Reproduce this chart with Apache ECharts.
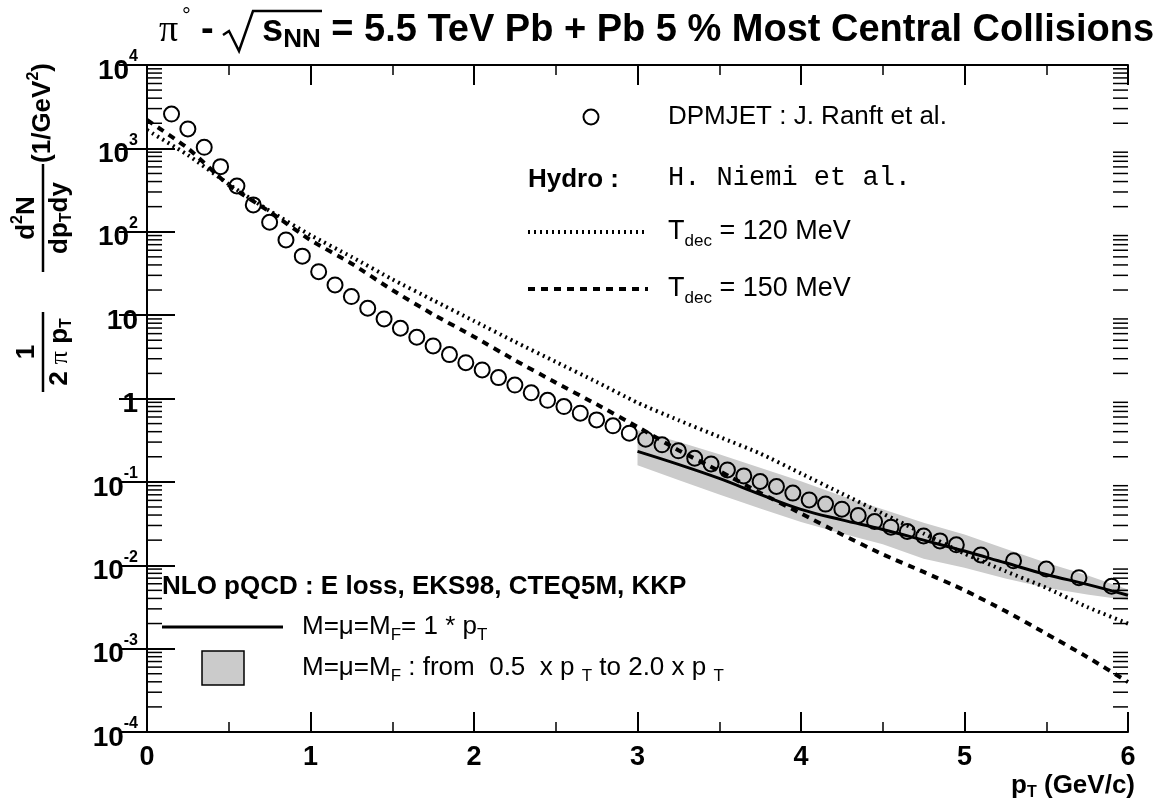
<!DOCTYPE html>
<html><head><meta charset="utf-8">
<script src="https://cdn.jsdelivr.net/npm/echarts@6/dist/echarts.min.js"></script>
<style>html,body{margin:0;padding:0;background:#fff}#c{width:1169px;height:807px}</style>
</head><body><div id="c"></div>
<script>
// ---- data ----
const dpmjetX = [0.15,0.25,0.35,0.45,0.55,0.65,0.75,0.85,0.95,1.05,1.15,1.25,1.35,1.45,1.55,1.65,1.75,1.85,1.95,2.05,
  2.15,2.25,2.35,2.45,2.55,2.65,2.75,2.85,2.95,3.05,3.15,3.25,3.35,3.45,3.55,3.65,3.75,3.85,3.95,4.05,
  4.15,4.25,4.35,4.45,4.55,4.65,4.75,4.85,4.95,5.1,5.3,5.5,5.7,5.9];
const dpmjetY = [2580,1710,1030,604,354,210,130,79.7,51,33.2,23.0,16.7,12.1,9.0,6.96,5.43,4.27,3.36,2.69,2.20,
  1.78,1.45,1.17,0.95,0.80,0.667,0.554,0.47,0.384,0.325,0.278,0.236,0.192,0.164,0.139,0.118,0.101,0.088,0.0733,0.0608,
  0.0541,0.0471,0.0395,0.0334,0.0286,0.0254,0.0225,0.0196,0.0176,0.0133,0.0113,0.0090,0.0071,0.0056];
const hydroX = [0,0.25,0.5,0.75,1,1.25,1.5,1.75,2,2.25,2.5,2.75,3,3.25,3.5,3.75,4,4.25,4.5,4.75,5,5.25,5.5,5.75,6];
const hydroT120 = [1660,832,372,178,91.2,50.1,26.9,15.1,8.51,4.79,2.75,1.58,0.891,0.550,0.347,0.219,0.126,0.0724,0.0417,0.0240,0.0138,0.00851,0.00537,0.00316,0.00200];
const hydroT150 = [2190,1000,363,174,79.4,41.7,20.0,10.2,5.50,2.88,1.55,0.851,0.457,0.240,0.135,0.0741,0.0417,0.0234,0.0135,0.00832,0.00501,0.00282,0.00151,0.000794,0.000398];
const nloX = [3,3.25,3.5,3.75,4,4.25,4.5,4.75,5,5.25,5.5,5.75,6];
const nloCentral = [0.232,0.162,0.110,0.0708,0.0468,0.0350,0.0269,0.0200,0.0148,0.0107,0.00776,0.00589,0.00437];
const nloBandHigh = [0.417,0.302,0.214,0.148,0.102,0.0676,0.0468,0.0324,0.0234,0.0158,0.0107,0.00759,0.00513];
const nloBandLow = [0.158,0.105,0.0708,0.0479,0.0331,0.0240,0.0178,0.0120,0.00933,0.00692,0.00537,0.00447,0.00380];
const xTickLabels = ['0','1','2','3','4','5','6'];
const yDecadeExponents = [-4,-3,-2,-1,0,1,2,3,4];
const yMinorMultipliers = [2,3,4,5,6,7,8,9];

// ---- helpers ----
const F = 'Liberation Sans, Arial, Helvetica, sans-serif';
const yMinorTicks = [];
yDecadeExponents.slice(0, -1).forEach(e => yMinorMultipliers.forEach(m => yMinorTicks.push([0, m * Math.pow(10, e)])));

function yLabel(v) {
  const e = Math.round(Math.log10(v));
  if (e === 0) return '{b|1}';
  if (e === 1) return '{b|10}';
  return '{b|10}{s|' + e + '}';
}

const chart = echarts.init(document.getElementById('c'), null, {renderer: 'canvas'});
const axisLine = {show: true, lineStyle: {color: '#000', width: 2}};
const option = {
  backgroundColor: '#fff',
  animation: false,
  grid: {left: 147, right: 41, top: 65, bottom: 75, containLabel: false},
  xAxis: [
    {type: 'value', min: 0, max: 6, interval: 1, position: 'bottom',
      axisLine: axisLine,
      axisTick: {show: true, inside: true, length: 20, lineStyle: {color: '#000', width: 2}},
      minorTick: {show: true, splitNumber: 2, length: 10, lineStyle: {color: '#000', width: 1.5}},
      splitLine: {show: false},
      axisLabel: {show: true, margin: 12, color: '#000', fontFamily: F, fontWeight: 'bold', fontSize: 27,
        formatter: v => xTickLabels[Math.round(v)]}
    },
    {type: 'value', min: 0, max: 6, interval: 1, position: 'top',
      axisLine: axisLine,
      axisTick: {show: true, inside: true, length: 20, lineStyle: {color: '#000', width: 2}},
      minorTick: {show: true, splitNumber: 2, length: 10, lineStyle: {color: '#000', width: 1.5}},
      splitLine: {show: false}, axisLabel: {show: false}
    }
  ],
  yAxis: [
    {type: 'log', logBase: 10, min: 1e-4, max: 1e4, splitNumber: 8, position: 'left',
      axisLine: axisLine,
      axisTick: {show: true, inside: true, length: 28, lineStyle: {color: '#000', width: 2}},
      splitLine: {show: false},
      axisLabel: {show: true, margin: 9, formatter: yLabel, padding: [12, 0, 0, 0],
        rich: {
          b: {fontFamily: F, fontWeight: 'bold', fontSize: 28, lineHeight: 44, color: '#000'},
          s: {fontFamily: F, fontWeight: 'bold', fontSize: 16, lineHeight: 16, verticalAlign: 'top', color: '#000'}
        }}
    },
    {type: 'log', logBase: 10, min: 1e-4, max: 1e4, splitNumber: 8, position: 'right',
      axisLine: axisLine,
      axisTick: {show: true, inside: true, length: 28, lineStyle: {color: '#000', width: 2}},
      splitLine: {show: false}, axisLabel: {show: false}
    }
  ],
  series: [
    {type: 'custom', name: 'band', coordinateSystem: 'cartesian2d', xAxisIndex: 0, yAxisIndex: 0,
      data: [[nloX[0], nloBandHigh[0]]], silent: true, z: 1,
      renderItem: function (params, api) {
        const pts = [];
        for (let i = 0; i < nloX.length; i++) pts.push(api.coord([nloX[i], nloBandHigh[i]]));
        for (let i = nloX.length - 1; i >= 0; i--) pts.push(api.coord([nloX[i], nloBandLow[i]]));
        return {type: 'polygon', shape: {points: pts}, style: {fill: '#cbcbcb', stroke: 'none'}};
      }
    },
    {type: 'custom', name: 'minorTicks', coordinateSystem: 'cartesian2d', xAxisIndex: 0, yAxisIndex: 0,
      data: yMinorTicks, silent: true, z: 3,
      renderItem: function (params, api) {
        const v = api.value(1);
        const pl = api.coord([0, v]);
        const pr = api.coord([6, v]);
        return {type: 'group', children: [
          {type: 'line', shape: {x1: pl[0], y1: pl[1], x2: pl[0] + 15, y2: pl[1]}, style: {stroke: '#000', lineWidth: 1.5}},
          {type: 'line', shape: {x1: pr[0] - 15, y1: pr[1], x2: pr[0], y2: pr[1]}, style: {stroke: '#000', lineWidth: 1.5}}
        ]};
      }
    },
    {type: 'line', name: 'NLO pQCD', data: nloX.map((x, i) => [x, nloCentral[i]]), showSymbol: false, smooth: 0.4,
      lineStyle: {color: '#000', width: 3}, z: 3},
    {type: 'line', name: 'Tdec = 120 MeV', data: hydroX.map((x, i) => [x, hydroT120[i]]), showSymbol: false, smooth: 0.2,
      lineStyle: {color: '#000', width: 4, type: [2, 4]}, z: 3},
    {type: 'line', name: 'Tdec = 150 MeV', data: hydroX.map((x, i) => [x, hydroT150[i]]), showSymbol: false, smooth: 0.2,
      lineStyle: {color: '#000', width: 4, type: [7, 6]}, z: 3},
    {type: 'scatter', name: 'DPMJET', data: dpmjetX.map((x, i) => [x, dpmjetY[i]]), symbol: 'circle', symbolSize: 15,
      itemStyle: {color: 'rgba(0,0,0,0)', borderColor: '#000', borderWidth: 2, opacity: 1}, z: 4}
  ],
  graphic: [
    // title
    {type: 'text', x: 159, y: 31, style: {text: 'π', font: '38px Liberation Serif', fill: '#000', verticalAlign: 'middle'}},
    {type: 'text', x: 182, y: 17, style: {text: '°', font: '22px ' + F, fill: '#000', verticalAlign: 'middle'}},
    {type: 'text', x: 201, y: 31, style: {text: '-', font: 'bold 38px ' + F, fill: '#000', verticalAlign: 'middle'}},
    {type: 'polyline', shape: {points: [[223, 35], [229, 31], [239, 51], [253, 11], [322, 11]]}, style: {stroke: '#000', lineWidth: 2.5, fill: 'none'}},
    {type: 'text', x: 262, y: 31, style: {
      text: '{b|s}{sub|NN}{b| = 5.5 TeV Pb + Pb 5 % Most Central Collisions}', verticalAlign: 'middle',
      rich: {
        b: {fontFamily: F, fontWeight: 'bold', fontSize: 38, lineHeight: 44, fill: '#000'},
        sub: {fontFamily: F, fontWeight: 'bold', fontSize: 26, lineHeight: 26, verticalAlign: 'bottom', fill: '#000'}
      }}},
    // y axis title
    {type: 'group', x: 43, y: 395, rotation: Math.PI / 2, children: [
      {type: 'text', x: 43, y: -16, style: {text: '1', font: 'bold 26px ' + F, fill: '#000', align: 'center', verticalAlign: 'middle'}},
      {type: 'line', shape: {x1: 3, y1: 0, x2: 83, y2: 0}, style: {stroke: '#000', lineWidth: 2.5}},
      {type: 'text', x: 43, y: 17, style: {text: '{n|2 }{g|π}{n| p}{sub|T}', align: 'center', verticalAlign: 'middle',
        rich: {n: {fontFamily: F, fontWeight: 'bold', fontSize: 26, lineHeight: 30}, g: {fontFamily: 'Liberation Serif', fontSize: 26, lineHeight: 30},
          sub: {fontFamily: F, fontWeight: 'bold', fontSize: 16, lineHeight: 16, verticalAlign: 'bottom'}}}},
      {type: 'text', x: 177, y: -16, style: {text: '{n|d}{sup|2}{n|N}', align: 'center', verticalAlign: 'middle',
        rich: {n: {fontFamily: F, fontWeight: 'bold', fontSize: 26, lineHeight: 34}, sup: {fontFamily: F, fontWeight: 'bold', fontSize: 16, lineHeight: 16, verticalAlign: 'top'}}}},
      {type: 'line', shape: {x1: 123, y1: 0, x2: 231, y2: 0}, style: {stroke: '#000', lineWidth: 2.5}},
      {type: 'text', x: 177, y: 17, style: {text: '{n|dp}{sub|T}{n|dy}', align: 'center', verticalAlign: 'middle',
        rich: {n: {fontFamily: F, fontWeight: 'bold', fontSize: 26, lineHeight: 30}, sub: {fontFamily: F, fontWeight: 'bold', fontSize: 16, lineHeight: 16, verticalAlign: 'bottom'}}}},
      {type: 'text', x: 282, y: 0, style: {text: '{n|(1/GeV}{sup|2}{n|)}', align: 'center', verticalAlign: 'middle',
        rich: {n: {fontFamily: F, fontWeight: 'bold', fontSize: 26, lineHeight: 34}, sup: {fontFamily: F, fontWeight: 'bold', fontSize: 16, lineHeight: 16, verticalAlign: 'top'}}}}
    ]},
    // x axis title
    {type: 'text', x: 1135, y: 786, style: {text: '{n|p}{sub|T}{n| (GeV/c)}', align: 'right', verticalAlign: 'middle',
      rich: {n: {fontFamily: F, fontWeight: 'bold', fontSize: 26, lineHeight: 30}, sub: {fontFamily: F, fontWeight: 'bold', fontSize: 16, lineHeight: 16, verticalAlign: 'bottom'}}}},
    // legend: DPMJET / Hydro
    {type: 'circle', shape: {cx: 591, cy: 117, r: 7.5}, style: {fill: 'none', stroke: '#000', lineWidth: 2}},
    {type: 'text', x: 668, y: 117, style: {text: 'DPMJET : J. Ranft et al.', font: '26px ' + F, fill: '#000', verticalAlign: 'middle'}},
    {type: 'text', x: 528, y: 180, style: {text: 'Hydro :', font: 'bold 26px ' + F, fill: '#000', verticalAlign: 'middle'}},
    {type: 'text', x: 668, y: 178, style: {text: 'H. Niemi et al.', font: '27px Liberation Mono', fill: '#000', verticalAlign: 'middle'}},
    {type: 'line', shape: {x1: 528, y1: 232, x2: 648, y2: 232}, style: {stroke: '#000', lineWidth: 4, lineDash: [2, 4]}},
    {type: 'text', x: 668, y: 232, style: {text: '{n|T}{sub|dec}{n| = 120 MeV}', verticalAlign: 'middle',
      rich: {n: {fontFamily: F, fontSize: 27, lineHeight: 36}, sub: {fontFamily: F, fontSize: 17, lineHeight: 17, verticalAlign: 'bottom'}}}},
    {type: 'line', shape: {x1: 528, y1: 289, x2: 648, y2: 289}, style: {stroke: '#000', lineWidth: 4, lineDash: [7, 6]}},
    {type: 'text', x: 668, y: 289, style: {text: '{n|T}{sub|dec}{n| = 150 MeV}', verticalAlign: 'middle',
      rich: {n: {fontFamily: F, fontSize: 27, lineHeight: 36}, sub: {fontFamily: F, fontSize: 17, lineHeight: 17, verticalAlign: 'bottom'}}}},
    // legend: NLO
    {type: 'text', x: 162, y: 587, style: {text: 'NLO pQCD : E loss, EKS98, CTEQ5M, KKP', font: 'bold 26px ' + F, fill: '#000', verticalAlign: 'middle'}},
    {type: 'line', shape: {x1: 162, y1: 627, x2: 283, y2: 627}, style: {stroke: '#000', lineWidth: 3}},
    {type: 'text', x: 302, y: 627, style: {text: '{n|M=μ=M}{sub|F}{n|= 1 * p}{sub|T}', verticalAlign: 'middle',
      rich: {n: {fontFamily: F, fontSize: 26, lineHeight: 34}, sub: {fontFamily: F, fontSize: 17, lineHeight: 17, verticalAlign: 'bottom'}}}},
    {type: 'rect', shape: {x: 202, y: 651, width: 42, height: 34}, style: {fill: '#cbcbcb', stroke: '#000', lineWidth: 1.5}},
    {type: 'text', x: 302, y: 668, style: {text: '{n|M=μ=M}{sub|F}{n| : from  0.5  x p }{sub|T}{n| to 2.0 x p }{sub|T}', verticalAlign: 'middle',
      rich: {n: {fontFamily: F, fontSize: 26, lineHeight: 34}, sub: {fontFamily: F, fontSize: 17, lineHeight: 17, verticalAlign: 'bottom'}}}}
  ]
};
chart.setOption(option);
</script>
</body></html>
